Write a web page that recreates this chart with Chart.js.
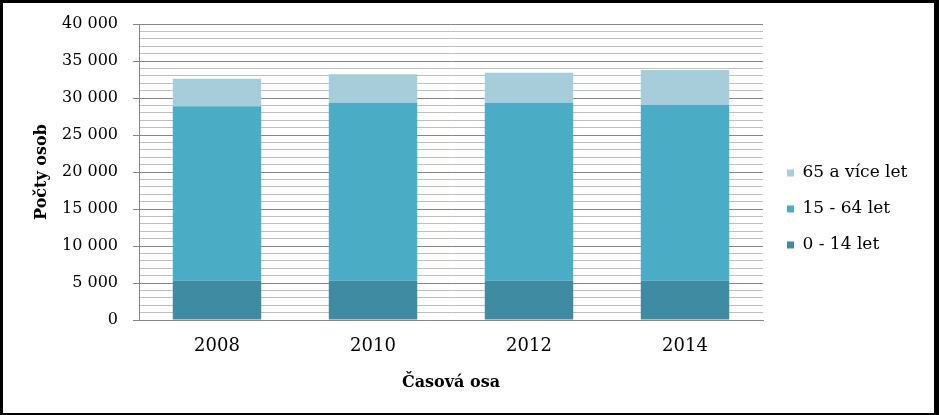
<!DOCTYPE html>
<html>
<head>
<meta charset="utf-8">
<script src="https://cdn.jsdelivr.net/npm/chart.js@4.4.1/dist/chart.umd.min.js"></script>
<style>
  html, body { margin: 0; padding: 0; background: #000; }
  .chart-box { position: absolute; left: 3px; top: 3px; width: 931px; height: 410px; background: #fff; }
</style>
</head>
<body>
<div class="chart-box"><canvas id="chart"></canvas></div>
<script>
const years = ['2008', '2010', '2012', '2014'];
const age0to14 = [5300, 5300, 5300, 5300];
const age15to64 = [23600, 24050, 24050, 23750];
const age65plus = [3700, 3850, 4050, 4750];
const seriesNames = ['0 - 14 let', '15 - 64 let', '65 a více let'];

const SERIF = "'DejaVu Serif', 'Liberation Serif', serif";
Chart.defaults.font.family = SERIF;
Chart.defaults.color = '#000';

const fmt = v => String(v).replace(/\B(?=(\d{3})+(?!\d))/g, ' ');
const isMajor = c => c.tick && c.tick.value % 5000 === 0;

// legend keeps a fixed width so the plot area doesn't move around
const fixLegendWidth = {
  id: 'fixLegendWidth',
  beforeLayout(chart) {
    const lg = chart.legend;
    if (lg && !lg._fixed) {
      const fit = lg.fit;
      lg.fit = function () { fit.call(this); this.width = 166; };
      lg._fixed = true;
    }
  }
};

new Chart(document.getElementById('chart'), {
  type: 'bar',
  data: {
    labels: years,
    datasets: [
      { label: seriesNames[0], data: age0to14, backgroundColor: '#3E8BA2', borderWidth: 0 },
      { label: seriesNames[1], data: age15to64, backgroundColor: '#4BACC6', borderWidth: 0 },
      { label: seriesNames[2], data: age65plus, backgroundColor: '#A7CDDB', borderWidth: 0 }
    ]
  },
  plugins: [fixLegendWidth],
  options: {
    responsive: true,
    maintainAspectRatio: false,
    animation: false,
    layout: { padding: { top: 21, bottom: 19, left: 0, right: 0 } },
    datasets: { bar: { barPercentage: 0.567, categoryPercentage: 1 } },
    scales: {
      x: {
        stacked: true,
        grid: { display: false, drawTicks: false },
        border: { display: true, color: '#868686' },
        ticks: { font: { family: SERIF, size: 18 }, padding: 16 },
        title: { display: true, text: 'Časová osa', font: { family: SERIF, size: 16, weight: 'bold' }, padding: { top: 0, bottom: 2 } },
        afterFit: s => { s.height = 74; }
      },
      y: {
        stacked: true,
        min: 0,
        max: 40000,
        grid: {
          color: c => isMajor(c) ? '#868686' : '#BEBEBE',
          tickColor: c => isMajor(c) ? '#868686' : 'rgba(0,0,0,0)',
          // long tick area keeps labels clear of the axis, only the 6px next to the axis is drawn
          tickLength: 21,
          tickBorderDash: [0, 15, 6, 100]
        },
        border: { display: true, color: '#868686' },
        ticks: {
          stepSize: 1000,
          autoSkip: false,
          padding: 0,
          font: { family: SERIF, size: 16 },
          callback: v => (v % 5000 === 0 ? fmt(v) : '')
        },
        title: { display: true, text: 'Počty osob', font: { family: SERIF, size: 16, weight: 'bold' }, padding: { top: 29, bottom: 0 } },
        afterFit: s => { s.width = 136; }
      },
      gap: {
        type: 'linear',
        position: 'right',
        grid: { display: false },
        border: { display: false },
        ticks: { display: false },
        afterFit: s => { s.width = 5; }
      }
    },
    plugins: {
      legend: {
        position: 'right',
        reverse: true,
        labels: { boxWidth: 7, boxHeight: 7, padding: 19, color: '#000', font: { family: SERIF, size: 17 } }
      },
      tooltip: { enabled: false }
    }
  }
});
</script>
</body>
</html>
